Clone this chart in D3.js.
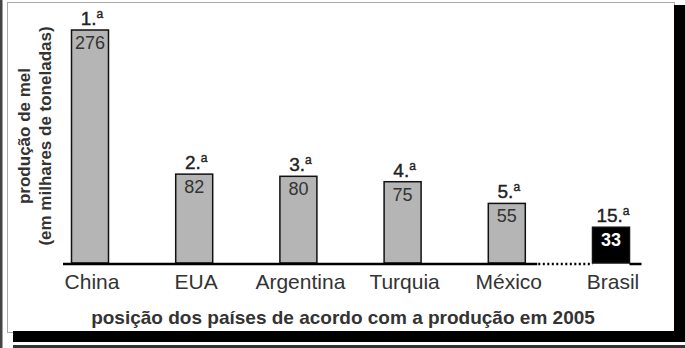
<!DOCTYPE html>
<html><head><meta charset="utf-8">
<script src="https://cdn.jsdelivr.net/npm/d3@7"></script>
<style>html,body{margin:0;padding:0;background:#fff;}svg{display:block;}</style>
</head><body><svg id="c" width="685" height="348"></svg>
<script>
const countries = ["China","EUA","Argentina","Turquia","México","Brasil"];
const production = [276, 82, 80, 75, 55, 33];
const ranks = ["1.","2.","3.","4.","5.","15."];
const highlight = ["Brasil"];
const yTitle = ["produção de mel","(em milhares de toneladas)"];
const xTitle = "posição dos países de acordo com a produção em 2005";

const svg = d3.select("#c");
const font = "'Liberation Sans', Arial, sans-serif";

// frame
svg.append("rect").attr("x",0).attr("y",0).attr("width",685).attr("height",348).attr("fill","#fff");
svg.append("rect").attr("x",0).attr("y",0).attr("width",2.5).attr("height",348).attr("fill","#444");
svg.append("rect").attr("x",7.5).attr("y",2.5).attr("width",667).attr("height",330).attr("fill","#fff").attr("stroke","#aaa").attr("stroke-width",1);
svg.append("rect").attr("x",674).attr("y",5).attr("width",11).attr("height",337).attr("fill","#000");
svg.append("rect").attr("x",13).attr("y",331).attr("width",672).attr("height",11).attr("fill","#000");
svg.append("rect").attr("x",13).attr("y",345).attr("width",672).attr("height",3).attr("fill","#333");

const baseY = 263;
const x = d3.scalePoint().domain(countries).range([90, 611]);
const y = d3.scaleLinear().domain([0, 215]).range([baseY, 30]).clamp(true);
const bw = 37;

const data = countries.map((c,i)=>({c, v:production[i], r:ranks[i], hi: highlight.includes(c)}));

// bars
svg.selectAll("rect.bar").data(data).enter().append("rect")
  .attr("class","bar")
  .attr("x", d=>x(d.c)-bw/2).attr("width", bw)
  .attr("y", d=>y(d.v)).attr("height", d=>baseY - y(d.v))
  .attr("fill", d=>d.hi ? "#000" : "#b5b5b5")
  .attr("stroke","#111").attr("stroke-width",1.5);

// baseline
const lastReg = data[data.length-2].c, br = data[data.length-1].c;
svg.append("line").attr("x1", x(countries[0])-27).attr("x2", x(lastReg)+bw/2+12)
  .attr("y1", baseY+1).attr("y2", baseY+1).attr("stroke","#000").attr("stroke-width",2.5);
svg.append("line").attr("x1", x(lastReg)+bw/2+13).attr("x2", x(br)-bw/2)
  .attr("y1", baseY+1).attr("y2", baseY+1).attr("stroke","#000").attr("stroke-width",2.5)
  .attr("stroke-dasharray","2,2.5");
svg.append("line").attr("x1", x(br)+bw/2).attr("x2", x(br)+bw/2+12)
  .attr("y1", baseY+1).attr("y2", baseY+1).attr("stroke","#000").attr("stroke-width",2.5);

// value labels
svg.selectAll("text.val").data(data).enter().append("text")
  .attr("class","val")
  .attr("x", d=>x(d.c)).attr("y", d=>y(d.v)+19)
  .attr("text-anchor","middle")
  .attr("font-family", font).attr("font-size", 18)
  .attr("font-weight", d=>d.hi ? "bold" : "normal")
  .attr("fill", d=>d.hi ? "#fff" : "#333")
  .text(d=>d.v);

// rank labels
const rl = svg.selectAll("text.rank").data(data).enter().append("text")
  .attr("class","rank")
  .attr("x", d=>x(d.c)+2).attr("y", d=>y(d.v)-5)
  .attr("text-anchor","middle")
  .attr("font-family", font).attr("font-size", 19)
  .attr("fill","#222").attr("stroke","#222").attr("stroke-width",0.4);
rl.append("tspan").text(d=>d.r);
rl.append("tspan").attr("font-size",12).attr("dy",-7).attr("dx",0).text("a");

// x axis labels
svg.selectAll("text.xl").data(data).enter().append("text")
  .attr("class","xl")
  .attr("x", d=>x(d.c)+2).attr("y", 289)
  .attr("text-anchor","middle")
  .attr("font-family", font).attr("font-size", 21)
  .attr("fill","#333")
  .text(d=>d.c);

// x title
svg.append("text").attr("x", 343).attr("y", 324).attr("text-anchor","middle")
  .attr("font-family", font).attr("font-size", 19).attr("font-weight","bold").attr("fill","#333")
  .text(xTitle);

// y title
yTitle.forEach((t,i)=>{
  svg.append("text")
    .attr("transform", `translate(${30 + i*21},136) rotate(-90)`)
    .attr("text-anchor","middle")
    .attr("font-family", font).attr("font-size", 17).attr("font-weight","bold").attr("fill","#333")
    .text(t);
});
</script></body></html>
